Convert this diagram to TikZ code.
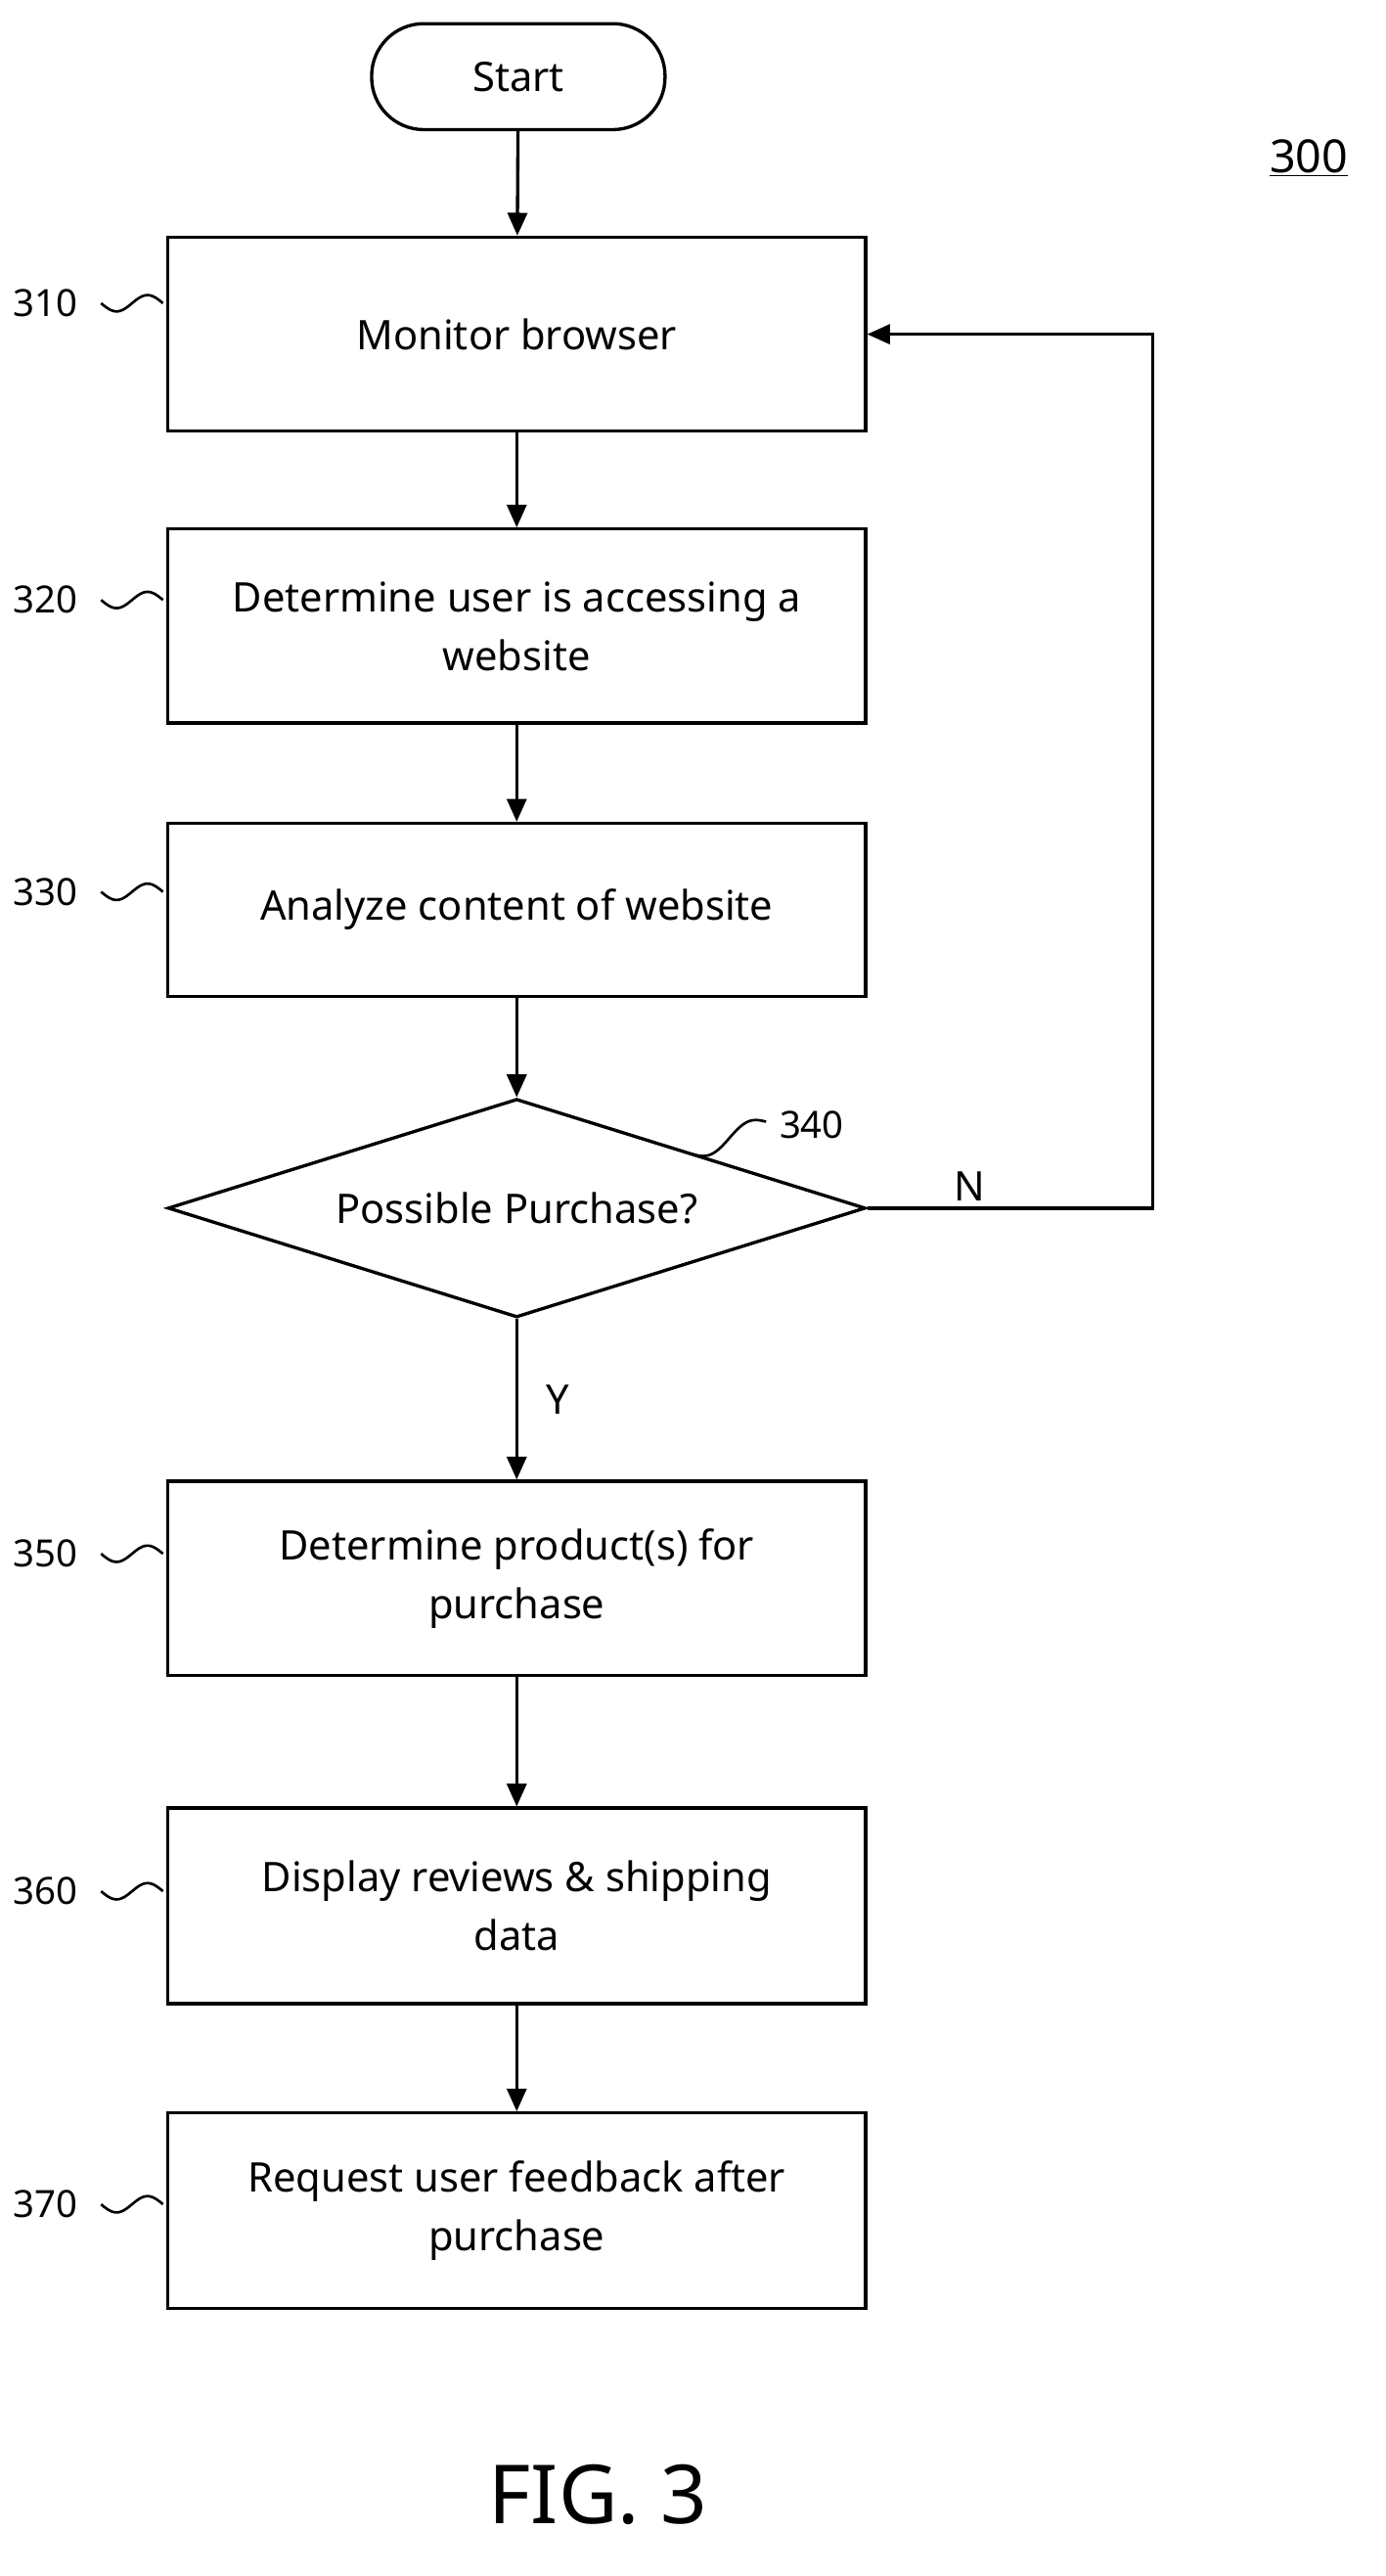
\documentclass[tikz,border=0pt]{standalone}
\usepackage{fontspec}
\setmainfont{Noto Sans}
\usetikzlibrary{shapes.geometric,arrows.meta}
\begin{document}
\begin{tikzpicture}[x=1pt,y=-1pt,
  box/.style={draw,line width=2pt,minimum width=428pt,align=center,font=\fontsize{25}{36}\selectfont,inner sep=0pt},
  lab/.style={font=\fontsize{23}{26}\selectfont},
  arr/.style={line width=2pt,-{Triangle[length=14pt,width=12pt]}},
  sq/.style={line width=1.6pt}]
\useasboundingbox (0,0) rectangle (850,1580);
\node[box,rounded corners=32pt,minimum width=180pt,minimum height=65pt] (st) at (318,47) {Start};
\node[font=\fontsize{28}{30}\selectfont] (n300) at (803,97) {\underline{300}};
\node[box,minimum height=119pt] (b310) at (317,205) {Monitor browser};
\node[box,minimum height=119pt] (b320) at (317,384) {Determine user is accessing a\\website};
\node[box,minimum height=106pt] (b330) at (317,558) {Analyze content of website};
\node[draw,line width=2pt,diamond,aspect=3.2,minimum width=428pt,minimum height=134pt,inner sep=0pt,font=\fontsize{25}{30}\selectfont] (d340) at (317,741) {};
\node[font=\fontsize{25}{30}\selectfont] (t340) at (317,741) {Possible Purchase?};
\node[box,minimum height=119pt] (b350) at (317,968) {Determine product(s) for\\purchase};
\node[box,minimum height=120pt] (b360) at (317,1169) {Display reviews \& shipping\\data};
\node[box,minimum height=120pt] (b370) at (317,1356) {Request user feedback after\\purchase};
\node[font=\fontsize{50}{55}\selectfont] (fig) at (367,1530) {FIG. 3};
\foreach \n/\y in {310/186,320/368,330/547,350/953,360/1160,370/1352}{
  \node[lab] (l\n) at (28,\y) {\n};
  \draw[sq] plot[domain=0:1,samples=30] ({62+38*\x},{\y+5*sin(360*\x)});
}
\node[lab] (l340) at (498,690) {340};
\draw[sq] plot[domain=0:1,samples=30] ({425+45*\x},{708-20*\x+5*sin(360*\x)});
\draw[arr] (st) -- (b310);
\draw[arr] (b310) -- (b320);
\draw[arr] (b320) -- (b330);
\draw[arr] (b330) -- (d340.north);
\draw[arr] (d340.south) -- node[right=14pt,font=\bfseries\fontsize{25}{30}\selectfont]{Y} (b350);
\draw[arr] (b350) -- (b360);
\draw[arr] (b360) -- (b370);
\coordinate (c1) at (707,741);
\coordinate (c2) at (707,205);
\draw[arr] (d340.east) -- node[above=0pt,pos=0.36,font=\bfseries\fontsize{25}{30}\selectfont]{N} (c1) -- (c2) -- (b310.east);
\end{tikzpicture}
\end{document}
